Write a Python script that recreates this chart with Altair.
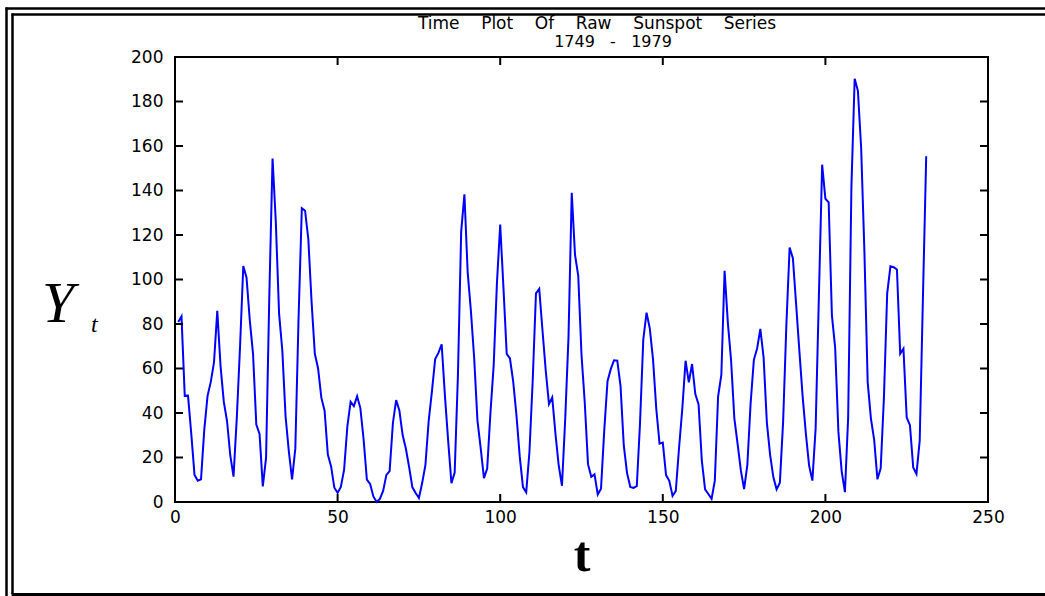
import altair as alt
import pandas as pd

# Yearly sunspot numbers 1749 - 1979 (t = 1 .. 231)
sunspots = [
    80.9,
    83.4, 47.7, 47.8, 30.7, 12.2, 9.6, 10.2, 32.4, 47.6, 54.0,
    62.9, 85.9, 61.2, 45.1, 36.4, 20.9, 11.4, 37.8, 69.8, 106.1,
    100.8, 81.6, 66.5, 34.8, 30.6, 7.0, 19.8, 92.5, 154.4, 125.9,
    84.8, 68.1, 38.5, 22.8, 10.2, 24.1, 82.9, 132.0, 130.9, 118.1,
    89.9, 66.6, 60.0, 46.9, 41.0, 21.3, 16.0, 6.4, 4.1, 6.8,
    14.5, 34.0, 45.0, 43.1, 47.5, 42.2, 28.1, 10.1, 8.1, 2.5,
    0.0, 1.4, 5.0, 12.2, 13.9, 35.4, 45.8, 41.1, 30.1, 23.9,
    15.6, 6.6, 4.0, 1.8, 8.5, 16.6, 36.3, 49.6, 64.2, 67.0,
    70.9, 47.8, 27.5, 8.5, 13.2, 56.9, 121.5, 138.3, 103.2, 85.7,
    64.6, 36.7, 24.2, 10.7, 15.0, 40.1, 61.5, 98.5, 124.7, 96.3,
    66.6, 64.5, 54.1, 39.0, 20.6, 6.7, 4.3, 22.7, 54.8, 93.8,
    95.8, 77.2, 59.1, 44.0, 47.0, 30.5, 16.3, 7.3, 37.6, 74.0,
    139.0, 111.2, 101.6, 66.2, 44.7, 17.0, 11.3, 12.4, 3.4, 6.0,
    32.3, 54.3, 59.7, 63.7, 63.5, 52.2, 25.4, 13.1, 6.8, 6.3,
    7.1, 35.6, 73.0, 85.1, 78.0, 64.0, 41.8, 26.2, 26.7, 12.1,
    9.5, 2.7, 5.0, 24.4, 42.0, 63.5, 53.8, 62.0, 48.5, 43.9,
    18.6, 5.7, 3.6, 1.4, 9.6, 47.4, 57.1, 103.9, 80.6, 63.6,
    37.6, 26.1, 14.2, 5.8, 16.7, 44.3, 63.9, 69.0, 77.8, 64.9,
    35.7, 21.2, 11.1, 5.7, 8.7, 36.1, 79.7, 114.4, 109.6, 88.8,
    67.8, 47.5, 30.6, 16.3, 9.6, 33.2, 92.6, 151.6, 136.3, 134.7,
    83.9, 69.4, 31.5, 13.9, 4.4, 38.0, 141.7, 190.2, 184.8, 159.0,
    112.3, 53.9, 37.5, 27.9, 10.2, 15.1, 47.0, 93.8, 105.9, 105.5,
    104.5, 66.6, 68.9, 38.0, 34.5, 15.5, 12.6, 27.5, 92.5, 155.4,
]
t_index = list(range(1, len(sunspots) + 1))
x_ticks = [0, 50, 100, 150, 200, 250]
y_ticks = [0, 20, 40, 60, 80, 100, 120, 140, 160, 180, 200]
SP = "\u00a0\u00a0\u00a0\u00a0"
title_line1 = SP.join(["Time", "Plot", "Of", "Raw", "Sunspot", "Series"])
title_line2 = "\u00a0\u00a0\u00a0".join(["1749", "-", "1979"])

W, H = 813, 445
xs = alt.Scale(domain=[0, 250], nice=False, zero=False)
ys = alt.Scale(domain=[0, 200], nice=False)
x_axis = alt.Axis(values=x_ticks, title=None, tickSize=0, domain=False, grid=False,
                  labelPadding=7, labelFont="DejaVu Sans", labelFontSize=17,
                  labelColor="black", labelFlush=False)
y_axis = alt.Axis(values=y_ticks, title=None, tickSize=0, domain=False, grid=False,
                  labelPadding=12, labelFont="DejaVu Sans", labelFontSize=17,
                  labelColor="black", labelFlush=False)

df = pd.DataFrame({"t": t_index, "y": sunspots})
dx = pd.DataFrame({"t": x_ticks})
dy = pd.DataFrame({"y": y_ticks})
one = pd.DataFrame({"k": [0]})

line = alt.Chart(df).mark_line(color="#0000ff", strokeWidth=2).encode(
    x=alt.X("t:Q", scale=xs, axis=x_axis),
    y=alt.Y("y:Q", scale=ys, axis=y_axis),
)

tick_style = dict(color="black", strokeWidth=2)
xt_bottom = alt.Chart(dx).mark_rule(**tick_style).encode(
    x=alt.X("t:Q", scale=xs, axis=x_axis), y=alt.value(H), y2=alt.value(H - 8))
xt_top = alt.Chart(dx).mark_rule(**tick_style).encode(
    x=alt.X("t:Q", scale=xs, axis=x_axis), y=alt.value(0), y2=alt.value(8))
yt_left = alt.Chart(dy).mark_rule(**tick_style).encode(
    y=alt.Y("y:Q", scale=ys, axis=y_axis), x=alt.value(0), x2=alt.value(8))
yt_right = alt.Chart(dy).mark_rule(**tick_style).encode(
    y=alt.Y("y:Q", scale=ys, axis=y_axis), x=alt.value(W), x2=alt.value(W - 8))


def txt(text, x, y, **kw):
    return alt.Chart(one).mark_text(**kw).encode(
        x=alt.value(x), y=alt.value(y), text=alt.value(text))


t1 = txt(title_line1, 422, -28, font="DejaVu Sans", fontSize=17, align="center",
         baseline="alphabetic", color="black")
t2 = txt(title_line2, 438, -10, font="DejaVu Sans", fontSize=16, align="center",
         baseline="alphabetic", color="black")
ylab = txt("Y", -133, 265, font="Liberation Serif", fontSize=58, fontStyle="italic",
           align="left", baseline="alphabetic", color="black")
ysub = txt("t", -84, 275, font="Liberation Serif", fontSize=24, fontStyle="italic",
           align="left", baseline="alphabetic", color="black")
xlab = txt("t", 407, 514, font="Liberation Serif", fontSize=50, fontWeight="bold",
           align="center", baseline="alphabetic", color="black")


def hrule(x1, x2, y, w):
    return alt.Chart(one).mark_rule(color="black", strokeWidth=w).encode(
        x=alt.value(x1), x2=alt.value(x2), y=alt.value(y))


def vrule(x, y1, y2, w):
    return alt.Chart(one).mark_rule(color="black", strokeWidth=w).encode(
        x=alt.value(x), y=alt.value(y1), y2=alt.value(y2))


frame = [
    hrule(-169.5, 875, -48.5, 2.5),
    hrule(-163.5, 875, -42.5, 2.5),
    vrule(-168.5, -49.5, 545, 2.5),
    vrule(-162.5, -43.5, 537, 2.5),
    hrule(-163.5, 875, 537.5, 3),
]

chart = alt.layer(
    line, xt_bottom, xt_top, yt_left, yt_right, *frame, t1, t2, ylab, ysub, xlab
).properties(
    width=W, height=H,
    autosize=alt.AutoSizeParams(type="none"),
    padding={"left": 175, "top": 57, "right": 57, "bottom": 94},
    background="white",
).configure_view(stroke="black", strokeWidth=2)

chart.save("out.html", embed_options={"renderer": "svg", "actions": False})
